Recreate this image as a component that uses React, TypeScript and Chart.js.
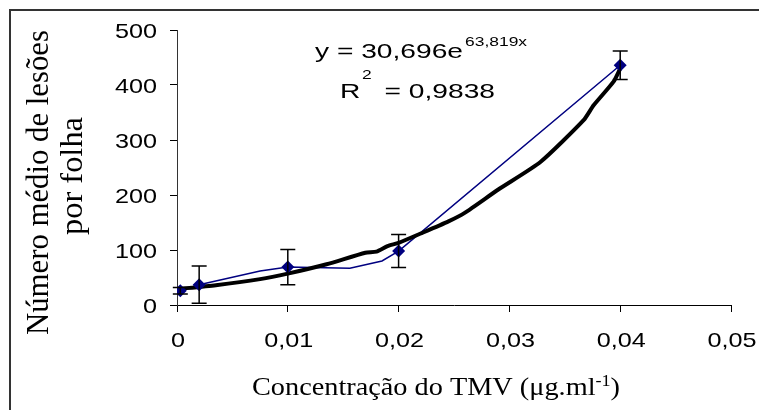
import React, { useEffect, useRef } from "react";
import { Chart, registerables } from "chart.js";

Chart.register(...registerables);

// ---- data ----
const xTickValues = [0, 0.01, 0.02, 0.03, 0.04, 0.05];
const xTickLabels = ["0", "0,01", "0,02", "0,03", "0,04", "0,05"];
const yTickValues = [0, 100, 200, 300, 400, 500];
const yTickLabels = ["0", "100", "200", "300", "400", "500"];

const pointX = [0.0003, 0.002, 0.01, 0.02, 0.04];
const pointY = [26, 37, 69, 98, 436];
const pointErr = [6, 34, 32, 30, 26];

const lineX = [0.0003, 0.002, 0.0075, 0.01, 0.0156, 0.0185, 0.02, 0.04];
const lineY = [26, 37, 62, 69, 67, 80, 98, 436];

const trendX = [0, 0.0035, 0.0075, 0.01, 0.0135, 0.017, 0.018, 0.019, 0.02, 0.022, 0.0245, 0.026, 0.029, 0.0328, 0.0367, 0.0376, 0.0394, 0.04];
const trendY = [29, 36, 47, 57, 74, 95, 97, 107, 113, 130, 152, 168, 210, 260, 336, 363, 406, 430];

const equationMain = "y = 30,696e";
const equationExp = "63,819x";
const r2Main = "R";
const r2Sup = "2";
const r2Value = "= 0,9838";
const yTitle1 = "Número médio de lesões";
const yTitle2 = "por folha";
const xTitleMain = "Concentração do TMV (μg.ml";
const xTitleSup = "-1";
const xTitleEnd = ")";

const SANS = '"Liberation Sans", Arimo, Arial, sans-serif';
const SERIF = '"Liberation Serif", Tinos, "Times New Roman", serif';

function drawStretched(
  ctx: CanvasRenderingContext2D,
  text: string,
  x: number,
  y: number,
  font: string,
  align: CanvasTextAlign,
  sx: number
) {
  ctx.save();
  ctx.font = font;
  ctx.textAlign = align;
  ctx.textBaseline = "alphabetic";
  ctx.fillStyle = "#000";
  ctx.translate(x, y);
  ctx.scale(sx, 1);
  ctx.fillText(text, 0, 0);
  ctx.restore();
}

function measure(ctx: CanvasRenderingContext2D, text: string, font: string) {
  ctx.save();
  ctx.font = font;
  const w = ctx.measureText(text).width;
  ctx.restore();
  return w;
}

function drawRotated(
  ctx: CanvasRenderingContext2D,
  text: string,
  x: number,
  y: number,
  font: string,
  targetLen: number
) {
  const w = measure(ctx, text, font);
  ctx.save();
  ctx.font = font;
  ctx.textAlign = "center";
  ctx.textBaseline = "alphabetic";
  ctx.fillStyle = "#000";
  ctx.translate(x, y);
  ctx.rotate(-Math.PI / 2);
  ctx.scale(targetLen / w, 1);
  ctx.fillText(text, 0, 0);
  ctx.restore();
}

const decorPlugin = {
  id: "decor",
  afterDatasetsDraw(chart: any) {
    const ctx: CanvasRenderingContext2D = chart.ctx;
    const xs = chart.scales.x;
    const ys = chart.scales.y;
    ctx.save();
    ctx.strokeStyle = "#000";
    ctx.lineWidth = 1.5;
    for (let i = 0; i < pointX.length; i++) {
      const px = xs.getPixelForValue(pointX[i]);
      const top = ys.getPixelForValue(pointY[i] + pointErr[i]);
      const bot = ys.getPixelForValue(pointY[i] - pointErr[i]);
      ctx.beginPath();
      ctx.moveTo(px, top);
      ctx.lineTo(px, bot);
      ctx.moveTo(px - 7.5, top);
      ctx.lineTo(px + 7.5, top);
      ctx.moveTo(px - 7.5, bot);
      ctx.lineTo(px + 7.5, bot);
      ctx.stroke();
    }
    ctx.restore();
  },
  afterDraw(chart: any) {
    const ctx: CanvasRenderingContext2D = chart.ctx;
    const xs = chart.scales.x;
    const ys = chart.scales.y;

    ctx.save();
    ctx.strokeStyle = "#333";
    ctx.lineWidth = 2;
    ctx.beginPath();
    ctx.moveTo(10, 410);
    ctx.lineTo(10, 10);
    ctx.lineTo(759, 10);
    ctx.stroke();
    ctx.restore();

    const tickFont = `21px ${SANS}`;
    yTickValues.forEach((v, i) => {
      const py = ys.getPixelForValue(v);
      drawStretched(ctx, yTickLabels[i], 157, py + 7.5, tickFont, "right", 1.2);
    });
    xTickValues.forEach((v, i) => {
      const px = xs.getPixelForValue(v);
      drawStretched(ctx, xTickLabels[i], px + 1, 346.5, tickFont, "center", 1.2);
    });

    const yFont = `31px ${SERIF}`;
    drawRotated(ctx, yTitle1, 48, 182.5, yFont, 305);
    drawRotated(ctx, yTitle2, 81.5, 176, yFont, 118);

    const xFont = `25px ${SERIF}`;
    const xSupFont = `16px ${SERIF}`;
    const w1 = measure(ctx, xTitleMain, xFont);
    const w2 = measure(ctx, xTitleSup, xSupFont);
    const w3 = measure(ctx, xTitleEnd, xFont);
    const sxT = 368 / (w1 + w2 + w3);
    let cx = 252;
    drawStretched(ctx, xTitleMain, cx, 395, xFont, "left", sxT);
    cx += w1 * sxT;
    drawStretched(ctx, xTitleSup, cx, 386, xSupFont, "left", sxT);
    cx += w2 * sxT;
    drawStretched(ctx, xTitleEnd, cx, 395, xFont, "left", sxT);

    const eqFont = `21px ${SANS}`;
    const eqSup = `13px ${SANS}`;
    const wEq = measure(ctx, equationMain, eqFont);
    const s = 148 / wEq;
    drawStretched(ctx, equationMain, 315, 58, eqFont, "left", s);
    drawStretched(ctx, equationExp, 315 + wEq * s + 2, 46, eqSup, "left", s);
    drawStretched(ctx, r2Main, 340, 98, eqFont, "left", s);
    drawStretched(ctx, r2Sup, 362, 79, eqSup, "left", s);
    drawStretched(ctx, r2Value, 495, 98, eqFont, "right", s);
  },
};

export default function App() {
  const ref = useRef<HTMLCanvasElement | null>(null);
  useEffect(() => {
    if (!ref.current) return;
    const chart = new Chart(ref.current, {
      type: "scatter",
      data: {
        datasets: [
          {
            label: "Médias",
            data: pointX.map((x, i) => ({ x, y: pointY[i] })),
            pointStyle: "rectRot",
            pointRadius: 6.5,
            pointBackgroundColor: "#000080",
            pointBorderColor: "#000080",
            pointBorderWidth: 0,
            showLine: false,
          },
          {
            label: "Tendência",
            data: trendX.map((x, i) => ({ x, y: trendY[i] })),
            showLine: true,
            borderColor: "#000",
            borderWidth: 4,
            borderJoinStyle: "round",
            borderCapStyle: "round",
            pointRadius: 0,
            tension: 0.2,
          },
          {
            label: "Linha",
            data: lineX.map((x, i) => ({ x, y: lineY[i] })),
            showLine: true,
            borderColor: "#000080",
            borderWidth: 1.5,
            pointRadius: 0,
            tension: 0,
          },
        ],
      },
      options: {
        responsive: false,
        animation: false,
        devicePixelRatio: 1,
        layout: { padding: { top: 30, right: 28, left: 0, bottom: 0 } },
        plugins: {
          legend: { display: false },
          tooltip: { enabled: false },
          title: { display: false },
        },
        scales: {
          x: {
            type: "linear",
            min: 0,
            max: 0.05,
            afterFit: (scale: any) => {
              scale.height = 105;
            },
            afterBuildTicks: (scale: any) => {
              scale.ticks = xTickValues.map((v) => ({ value: v }));
            },
            ticks: { display: false },
            grid: {
              drawOnChartArea: false,
              drawTicks: true,
              tickLength: 7,
              color: "#000",
              lineWidth: 1,
            },
            border: { display: true, color: "#000", width: 1 },
          },
          y: {
            type: "linear",
            min: 0,
            max: 500,
            afterFit: (scale: any) => {
              scale.width = 177;
            },
            afterBuildTicks: (scale: any) => {
              scale.ticks = yTickValues.map((v) => ({ value: v }));
            },
            ticks: { display: false },
            grid: {
              drawOnChartArea: false,
              drawTicks: true,
              tickLength: 7,
              color: "#000",
              lineWidth: 1,
            },
            border: { display: true, color: "#333", width: 1 },
          },
        },
      },
      plugins: [decorPlugin],
    } as any);
    let alive = true;
    const redraw = () => {
      if (alive) chart.draw();
    };
    const fonts: any = (document as any).fonts;
    if (fonts && fonts.load) {
      Promise.all([
        fonts.load(`21px "Liberation Sans"`),
        fonts.load(`13px "Liberation Sans"`),
        fonts.load(`25px "Liberation Serif"`),
        fonts.load(`31px "Liberation Serif"`),
      ])
        .then(redraw)
        .catch(redraw);
    }
    const t = setTimeout(redraw, 300);
    return () => {
      alive = false;
      clearTimeout(t);
      chart.destroy();
    };
  }, []);
  return (
    <div style={{ position: "fixed", left: 0, top: 0, width: 759, height: 410, background: "#fff" }}>
      <canvas ref={ref} width={759} height={410} style={{ display: "block" }} />
    </div>
  );
}
